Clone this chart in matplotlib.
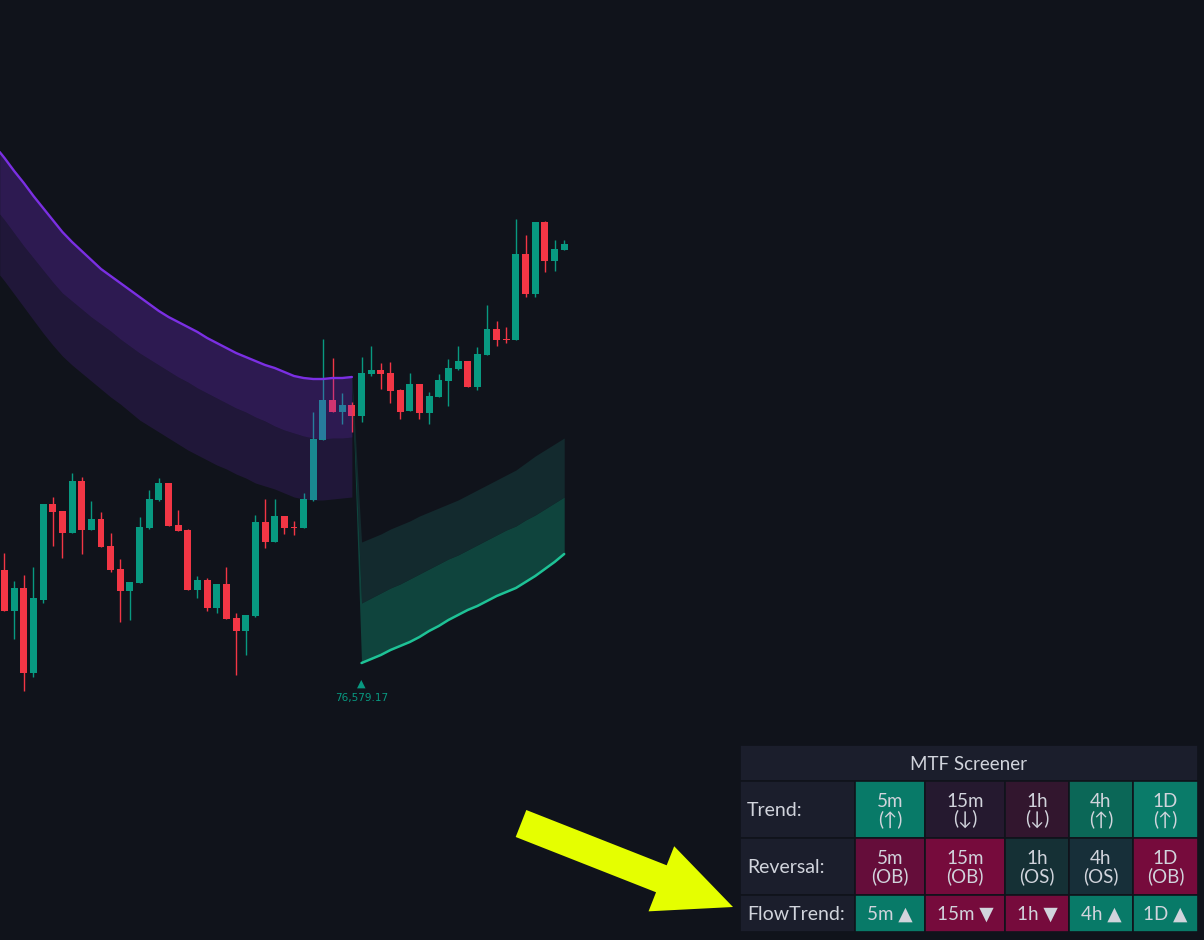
import matplotlib
matplotlib.use("Agg")
import matplotlib.pyplot as plt
from matplotlib.patches import Rectangle, FancyArrow
import numpy as np

# ---- candle data (OHLC) ----
opens = [77500, 77090, 77320, 76470, 77200, 78160, 78090, 77870, 78390, 77900,
         78010, 77740, 77510, 77290, 77370, 77920, 78200, 78370, 77950, 77900,
         77300, 77400, 77120, 77360, 77020, 76890, 77040, 77980, 77780, 78040,
         77930, 77920, 78200, 78800, 79200, 79080, 79150, 79040, 79460, 79500,
         79470, 79300, 79090, 79360, 79070, 79230, 79390, 79510, 79590, 79330,
         79650, 79910, 79810, 79800, 80660, 80260, 80980, 80590, 80700]
highs = [77670, 77390, 77450, 77530, 78160, 78230, 78090, 78470, 78430, 78190,
         78080, 77870, 77610, 77380, 78030, 78300, 78420, 78370, 78100, 77910,
         77440, 77420, 77360, 77530, 77070, 77050, 78050, 78210, 78210, 78040,
         77990, 78270, 79080, 79810, 79620, 79270, 79180, 79630, 79740, 79570,
         79580, 79310, 79470, 79360, 79280, 79460, 79610, 79740, 79590, 79730,
         80150, 79990, 79930, 81010, 80850, 80980, 80990, 80800, 80800]
lows = [77090, 76810, 76290, 76430, 77170, 77740, 77620, 77870, 77660, 77900,
        77730, 77480, 76980, 77000, 77370, 77910, 78190, 77940, 77890, 77300,
        77220, 77090, 77070, 77010, 76450, 76650, 77030, 77720, 77780, 77860,
        77850, 77920, 78190, 78800, 79080, 78960, 78880, 78980, 79440, 79310,
        79170, 79010, 79090, 79010, 78960, 79230, 79140, 79500, 79330, 79300,
        79650, 79740, 79770, 79800, 80230, 80230, 80480, 80490, 80700]
closes = [77090, 77320, 76470, 77220, 78160, 78080, 77870, 78390, 77900, 78010,
          77730, 77500, 77290, 77380, 77930, 78210, 78370, 77940, 77890, 77300,
          77400, 77120, 77360, 77010, 76890, 77050, 77980, 77780, 78040, 77920,
          77920, 78210, 78810, 79200, 79080, 79150, 79040, 79470, 79500, 79460,
          79290, 79080, 79360, 79070, 79240, 79400, 79520, 79590, 79330, 79660,
          79910, 79800, 79800, 80660, 80260, 80980, 80590, 80710, 80760]

# ---- bearish (purple) band, bars -0.5 .. 36 ----
purple_x = [-0.5] + list(range(37))
purple_upper = [81680, 81620, 81490, 81370, 81240, 81120, 81000, 80880, 80780, 80690,
                80600, 80510, 80440, 80370, 80300, 80230, 80160, 80090, 80030, 79980,
                79930, 79880, 79820, 79770, 79720, 79670, 79630, 79590, 79550, 79520,
                79480, 79440, 79420, 79410, 79410, 79420, 79420, 79430]
purple_mid = [81060, 81000, 80870, 80740, 80620, 80500, 80380, 80270, 80190, 80110,
              80030, 79960, 79890, 79810, 79740, 79670, 79610, 79550, 79490, 79430,
              79380, 79320, 79270, 79220, 79170, 79120, 79080, 79030, 78990, 78940,
              78900, 78870, 78840, 78820, 78810, 78820, 78820, 78830]
purple_lower = [80450, 80390, 80260, 80130, 80000, 79870, 79750, 79640, 79550, 79470,
                79390, 79310, 79230, 79160, 79080, 79000, 78940, 78880, 78820, 78760,
                78700, 78650, 78600, 78550, 78510, 78460, 78420, 78370, 78340, 78310,
                78270, 78230, 78210, 78200, 78200, 78210, 78220, 78230]

# ---- bullish (green) band, bars 36 .. 58 ----
green_x = list(range(36, 59))
green_upper = [79440, 77780, 77820, 77860, 77910, 77950, 77990, 78040, 78080, 78120,
               78160, 78200, 78250, 78300, 78350, 78400, 78450, 78500, 78570, 78640,
               78700, 78760, 78820]
green_mid = [79430, 77170, 77220, 77270, 77320, 77360, 77410, 77460, 77510, 77560,
             77610, 77650, 77700, 77750, 77800, 77850, 77900, 77940, 78000, 78050,
             78110, 78170, 78230]
green_lower = [79420, 76570, 76610, 76650, 76700, 76740, 76780, 76830, 76890, 76940,
               77000, 77050, 77100, 77140, 77190, 77240, 77280, 77320, 77380, 77440,
               77510, 77580, 77660]
low_label = "76,579.17"

# ---- screener table ----
table_title = "MTF Screener"
row_labels = ["Trend:", "Reversal:", "FlowTrend:"]
timeframes = ["5m", "15m", "1h", "4h", "1D"]
trend_marks = ["(↑)", "(↓)", "(↓)", "(↑)", "(↑)"]
reversal_marks = ["(OB)", "(OB)", "(OS)", "(OS)", "(OB)"]
flow_marks = ["▲", "▼", "▼", "▲", "▲"]
trend_colors = ["#087a68", "#25192f", "#32162e", "#0b6757", "#0a7b69"]
reversal_colors = ["#650d3a", "#760b3c", "#153035", "#172f39", "#760b3c"]
flow_colors = ["#087a68", "#760b3c", "#760b3c", "#087a68", "#087a68"]

BG = "#10131b"
UP = "#089981"
DOWN = "#f23645"
TXT = "#d1d4dc"
FONT = ["Lato", "DejaVu Sans"]

fig = plt.figure(figsize=(12.04, 9.40), dpi=100)
fig.patch.set_facecolor(BG)
ax = fig.add_axes([0, 0, 1, 1])
ax.set_facecolor(BG)
ax.set_xlim(-0.466, 124.3)
ax.set_ylim(73800, 83200)
ax.axis("off")

# candles
o = np.array(opens); c = np.array(closes)
idx = np.arange(len(o))
cols = [UP if cc >= oo else DOWN for oo, cc in zip(o, c)]
bottoms = np.minimum(o, c)
heights = np.maximum(np.abs(c - o), 12)
ax.vlines(idx, lows, highs, colors=cols, lw=1.0, zorder=2)
ax.bar(idx, heights, bottom=bottoms, width=0.72, color=cols, lw=0, zorder=2)

# purple band drawn on top so the candles underneath get tinted
ax.fill_between(purple_x, purple_upper, purple_mid, color="#7e2fe6", alpha=0.27, lw=0, zorder=3)
ax.fill_between(purple_x, purple_mid, purple_lower, color="#7e2fe6", alpha=0.15, lw=0, zorder=3)
ax.plot(purple_x, purple_upper, color="#7b2fe3", lw=1.7, zorder=4, solid_capstyle="round")

# green band
ax.fill_between(green_x, green_upper, green_mid, color="#132a2e", lw=0, zorder=1)
ax.fill_between(green_x, green_mid, green_lower, color="#0f443d", lw=0, zorder=1)
ax.plot(green_x[1:], green_lower[1:], color="#1ec296", lw=1.8, zorder=4, solid_capstyle="round")

# low label
ax.annotate("▲", (green_x[1], green_lower[1]), xytext=(0, -15), textcoords="offset points",
            ha="center", va="center", color=UP, fontsize=8)
ax.annotate(low_label, (green_x[1], green_lower[1]), xytext=(0, -25), textcoords="offset points",
            ha="center", va="center", color=UP, fontsize=7.5)

# overlay in pixel coordinates for the table and the arrow
ov = fig.add_axes([0, 0, 1, 1], facecolor="none")
ov.set_xlim(0, 1204)
ov.set_ylim(940, 0)
ov.axis("off")

col_edges = [740, 855, 925, 1005, 1069, 1133, 1198]
row_edges = [781, 838, 895, 932]
head_bg = "#1b1e2c"

ov.add_patch(Rectangle((740, 745), 458, 36, facecolor=head_bg, edgecolor=BG, lw=1.2))
ov.text(969, 764, table_title, ha="center", va="center", color=TXT, fontsize=13.5, family=FONT)

row_texts = [trend_marks, reversal_marks, flow_marks]
row_colors = [trend_colors, reversal_colors, flow_colors]
for r in range(3):
    y0, y1 = row_edges[r], row_edges[r + 1]
    ov.add_patch(Rectangle((740, y0), col_edges[1] - 740, y1 - y0,
                           facecolor=head_bg, edgecolor=BG, lw=1.2))
    ov.text(747, (y0 + y1) / 2 + 1, row_labels[r], ha="left", va="center",
            color=TXT, fontsize=14, family=FONT)
    for k in range(5):
        x0, x1 = col_edges[k + 1], col_edges[k + 2]
        ov.add_patch(Rectangle((x0, y0), x1 - x0, y1 - y0,
                               facecolor=row_colors[r][k], edgecolor=BG, lw=1.2))
        if r < 2:
            label = timeframes[k] + "\n" + row_texts[r][k]
            ov.text((x0 + x1) / 2, (y0 + y1) / 2 + 1, label, ha="center", va="center",
                    color=TXT, fontsize=13.5, linespacing=1.0, family=FONT)
        else:
            label = timeframes[k] + " " + row_texts[r][k]
            ov.text((x0 + x1) / 2, (y0 + y1) / 2 + 1, label, ha="center", va="center",
                    color=TXT, fontsize=13.5, family=FONT)

# yellow pointer arrow
ov.add_patch(FancyArrow(521, 823.5, 212, 83.5, width=29, head_width=70, head_length=77,
                        length_includes_head=True, color="#e5ff00", lw=0))

fig.savefig("out.png", dpi=100, facecolor=BG)
